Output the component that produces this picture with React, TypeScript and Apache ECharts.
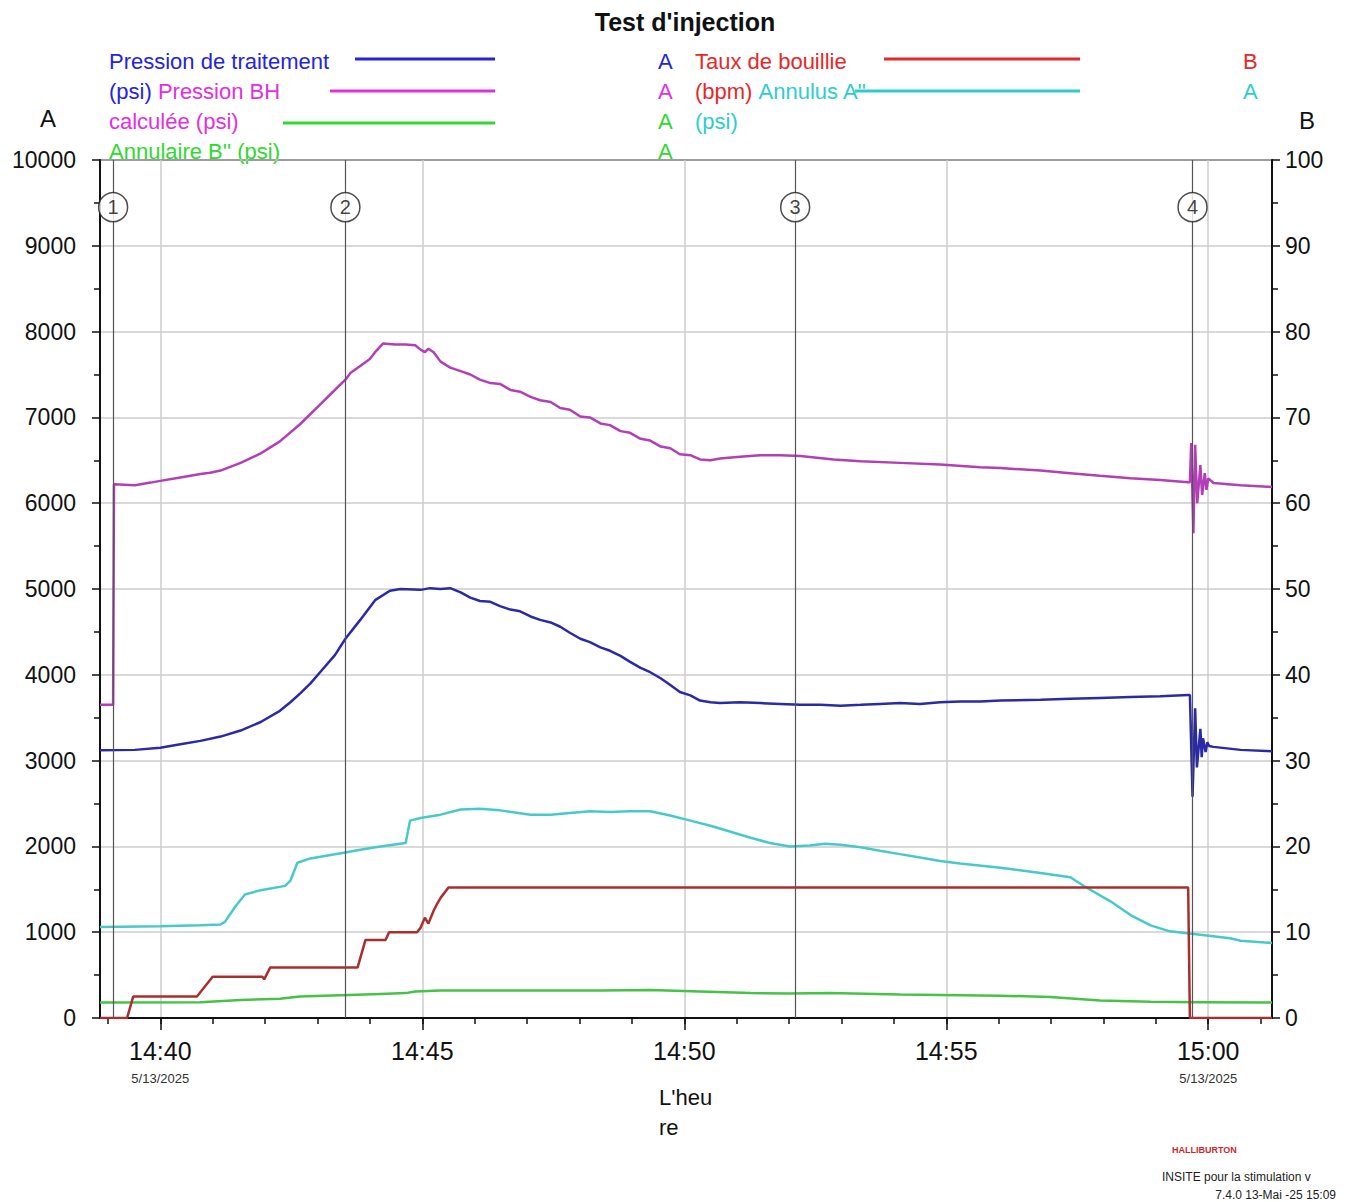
import React, { useEffect, useRef } from "react";
import * as echarts from "echarts";

// ---- time axis: seconds relative to 14:40:00 (5/13/2025) ----
const X_MIN = -69; // 14:38:51
const X_MAX = 1273; // 15:01:13
const MINUTE_TICK_RANGE = [-60, 1260];
const FIVE_MIN_RANGE = [0, 1200];
const DATE_LABEL = "5/13/2025";

// Pression de traitement (psi) [sec, psi]
const treatPressure: [number, number][] = [
  [-69, 3120], [-29, 3125], [0, 3150], [23, 3190], [46, 3230], [69, 3280], [92, 3350],
  [115, 3450], [137, 3580], [149, 3680], [160, 3780], [172, 3900], [183, 4030], [200, 4230],
  [212, 4420], [229, 4640], [246, 4870], [263, 4980], [275, 5000], [298, 4990], [309, 5010],
  [321, 5000], [332, 5010], [344, 4960], [355, 4900], [366, 4860], [378, 4850], [389, 4800],
  [401, 4760], [412, 4740], [424, 4680], [435, 4640], [447, 4610], [458, 4560], [469, 4490],
  [481, 4420], [492, 4380], [504, 4320], [515, 4280], [527, 4220], [538, 4150], [550, 4080],
  [561, 4030], [573, 3960], [584, 3880], [595, 3800], [607, 3760], [618, 3700], [630, 3680],
  [641, 3670], [664, 3680], [687, 3670], [710, 3660], [733, 3650], [756, 3650], [779, 3640],
  [802, 3650], [824, 3660], [847, 3670], [870, 3660], [893, 3680], [916, 3690], [939, 3690],
  [962, 3700], [1008, 3710], [1042, 3720], [1076, 3730], [1111, 3740], [1145, 3750],
  [1177, 3765], [1179, 3765], [1182, 2580], [1185, 3610], [1187, 2920], [1191, 3370],
  [1192.5, 3040], [1194, 3260], [1197, 3100], [1199, 3215], [1201, 3170], [1206, 3160],
  [1237, 3125], [1273, 3110],
];

// Pression BH calculée (psi)
const bhPressure: [number, number][] = [
  [-69, 3650], [-54, 3650], [-53, 6220], [-29, 6210], [-11, 6240], [0, 6260], [23, 6300],
  [46, 6340], [57, 6355], [69, 6380], [92, 6470], [115, 6580], [126, 6650], [137, 6720],
  [160, 6920], [183, 7150], [195, 7270], [212, 7440], [218, 7520], [229, 7600], [240, 7680],
  [246, 7760], [255, 7860], [269, 7850], [281, 7850], [292, 7840], [298, 7790], [303, 7760],
  [307, 7800], [313, 7760], [321, 7650], [332, 7580], [344, 7540], [355, 7500], [366, 7440],
  [378, 7400], [389, 7390], [401, 7320], [412, 7300], [424, 7240], [435, 7200], [447, 7180],
  [458, 7110], [469, 7090], [481, 7010], [492, 7000], [504, 6930], [515, 6910], [527, 6840],
  [538, 6820], [550, 6750], [561, 6730], [573, 6660], [584, 6640], [595, 6570], [607, 6560],
  [618, 6510], [630, 6500], [641, 6520], [664, 6540], [687, 6560], [710, 6560], [733, 6550],
  [771, 6510], [802, 6490], [847, 6470], [893, 6450], [939, 6420], [962, 6410], [1008, 6380],
  [1042, 6350], [1076, 6320], [1111, 6290], [1145, 6270], [1177, 6245], [1179, 6245],
  [1180.5, 6700], [1183, 5650], [1185, 6680], [1187.4, 6000], [1191, 6445], [1193, 6095],
  [1196, 6350], [1198, 6155], [1200, 6290], [1206, 6235], [1237, 6210], [1273, 6190],
];

// Annulaire B'' (psi)
const annulusB: [number, number][] = [
  [-69, 180], [46, 185], [92, 210], [137, 225], [160, 250], [206, 265], [252, 280], [281, 290],
  [292, 310], [321, 320], [389, 320], [504, 320], [561, 325], [618, 310], [676, 290], [721, 285],
  [767, 290], [847, 275], [962, 260], [1019, 245], [1076, 205], [1134, 190], [1191, 185],
  [1273, 180],
];

// Annulus A'' (psi)
const annulusA: [number, number][] = [
  [-69, 1060], [0, 1070], [46, 1080], [69, 1090], [74, 1120], [86, 1300], [97, 1440],
  [115, 1490], [143, 1540], [149, 1600], [157, 1810], [172, 1860], [195, 1900], [212, 1930],
  [229, 1960], [252, 2000], [281, 2040], [286, 2300], [298, 2330], [321, 2370], [344, 2430],
  [366, 2440], [389, 2420], [424, 2370], [447, 2370], [469, 2390], [492, 2410], [515, 2400],
  [538, 2410], [561, 2410], [584, 2360], [607, 2300], [630, 2240], [653, 2170], [676, 2100],
  [698, 2040], [721, 2000], [744, 2010], [761, 2030], [779, 2020], [802, 1990], [824, 1950],
  [847, 1910], [870, 1870], [893, 1830], [916, 1800], [962, 1750], [1008, 1690], [1042, 1640],
  [1059, 1530], [1088, 1360], [1111, 1200], [1134, 1080], [1156, 1010], [1191, 970],
  [1225, 930], [1237, 900], [1273, 875],
];

// Taux de bouillie (bpm)
const slurryRate: [number, number][] = [
  [-69, 0], [-38, 0], [-31, 2.5], [42, 2.5], [60, 4.8], [117, 4.8], [119, 4.5], [126, 5.9],
  [226, 5.9], [235, 9.1], [258, 9.1], [262, 10.0], [294, 10.0], [298, 10.5], [303, 11.7],
  [307, 11.0], [313, 12.5], [317, 13.3], [321, 14.0], [330, 15.2], [1177, 15.2], [1179, 0],
  [1273, 0],
];

// Event markers
const EVENT_SECS = [-54, 212, 727, 1182];
const EVENT_LABELS = ["1", "2", "3", "4"];
const EVENT_LEVEL = 9450;

const LEFT_TICKS = { min: 0, max: 10000, interval: 1000 };
const RIGHT_TICKS = { min: 0, max: 100, interval: 10 };

const W = 1346;
const H = 1202;
const G_LEFT = 100;
const G_RIGHT_PX = 1272;
const G_TOP = 160;
const G_BOTTOM_PX = 1018;

const C = {
  blue: "#2a2aa6",
  magenta: "#b23fb6",
  green: "#46c246",
  cyan: "#48c9c9",
  red: "#a92f2f",
  tBlue: "#2424dc",
  tMagenta: "#e030e0",
  tGreen: "#30d830",
  tRed: "#e62828",
  tCyan: "#30cccc",
  grid: "#cdcdcd",
};

function fmtTime(v: number) {
  const mins = 14 * 60 + 40 + Math.round(v / 60);
  const hh = Math.floor(mins / 60);
  const mm = mins % 60;
  return `${hh}:${mm < 10 ? "0" + mm : mm}`;
}

export default function App() {
  const ref = useRef<HTMLDivElement>(null);
  useEffect(() => {
    document.body.style.margin = "0";
    if (!ref.current) return;
    const chart = echarts.init(ref.current, undefined, { renderer: "svg" });
    const k = (G_RIGHT_PX - G_LEFT) / (X_MAX - X_MIN);
    const px = (s: number) => G_LEFT + (s - X_MIN) * k;
    const gridBottom = H - G_BOTTOM_PX;
    const font = "Liberation Sans, Arial, sans-serif";

    const lineSeries = (name: string, data: [number, number][], color: string, yIdx = 0, extra: any = {}) => ({
      name,
      type: "line",
      data,
      xAxisIndex: 0,
      yAxisIndex: yIdx,
      showSymbol: false,
      symbol: "none",
      lineStyle: { color, width: 2.5 },
      itemStyle: { color },
      silent: true,
      z: 3,
      ...extra,
    });

    const legendText = (x: number, y: number, text: string, fill: string, rich?: any) => ({
      type: "text",
      x,
      y,
      style: { text, fill, fontSize: 22, fontFamily: font, verticalAlign: "middle", align: "left", rich },
    });
    const legendLine = (x1: number, x2: number, y: number, stroke: string) => ({
      type: "line",
      shape: { x1, y1: y, x2, y2: y },
      style: { stroke, lineWidth: 3 },
    });

    chart.setOption({
      animation: false,
      backgroundColor: "#ffffff",
      textStyle: { fontFamily: font },
      grid: [
        { left: G_LEFT, right: W - G_RIGHT_PX, top: G_TOP, bottom: gridBottom, show: true, borderColor: "#111", borderWidth: 2, backgroundColor: "transparent" },
        { left: px(MINUTE_TICK_RANGE[0]), right: W - px(MINUTE_TICK_RANGE[1]), top: G_TOP, bottom: gridBottom },
        { left: px(FIVE_MIN_RANGE[0]), right: W - px(FIVE_MIN_RANGE[1]), top: G_TOP, bottom: gridBottom },
      ],
      xAxis: [
        {
          type: "value", gridIndex: 0, min: X_MIN, max: X_MAX,
          axisLine: { show: true, onZero: false, lineStyle: { color: "#111", width: 2 } },
          axisTick: { show: false }, axisLabel: { show: false }, splitLine: { show: false },
        },
        {
          type: "value", gridIndex: 1, min: MINUTE_TICK_RANGE[0], max: MINUTE_TICK_RANGE[1], interval: 60,
          axisLine: { show: false, onZero: false },
          axisTick: { show: true, length: 6, lineStyle: { color: "#111", width: 1.5 } },
          axisLabel: { show: false }, splitLine: { show: false },
        },
        {
          type: "value", gridIndex: 2, min: FIVE_MIN_RANGE[0], max: FIVE_MIN_RANGE[1], interval: 300,
          axisLine: { show: false, onZero: false },
          axisTick: { show: true, length: 12, lineStyle: { color: "#111", width: 1.5 } },
          splitLine: { show: true, lineStyle: { color: C.grid, width: 1.5 } },
          axisLabel: {
            show: true,
            margin: 18,
            verticalAlign: "top",
            formatter: (v: number) => {
              const t = fmtTime(v);
              return v === FIVE_MIN_RANGE[0] || v === FIVE_MIN_RANGE[1]
                ? `{t|${t}}\n{d|${DATE_LABEL}}`
                : `{t|${t}}`;
            },
            rich: {
              t: { fontSize: 25, color: "#111", lineHeight: 30, fontFamily: font },
              d: { fontSize: 13, color: "#333", lineHeight: 24, fontFamily: font },
            },
          },
        },
      ],
      yAxis: [
        {
          type: "value", gridIndex: 0, ...LEFT_TICKS, position: "left",
          axisLine: { show: true, onZero: false, lineStyle: { color: "#111", width: 2 } },
          axisTick: { show: true, length: 8, lineStyle: { color: "#111", width: 1.5 } },
          minorTick: { show: true, splitNumber: 2, length: 6, lineStyle: { color: "#111", width: 1.5 } },
          axisLabel: { fontSize: 23, color: "#111", margin: 24, fontFamily: font, formatter: (v: number) => String(v) },
          splitLine: { show: true, lineStyle: { color: C.grid, width: 1.5 } },
        },
        {
          type: "value", gridIndex: 0, ...RIGHT_TICKS, position: "right",
          axisLine: { show: true, onZero: false, lineStyle: { color: "#111", width: 2 } },
          axisTick: { show: true, length: 8, lineStyle: { color: "#111", width: 1.5 } },
          minorTick: { show: true, splitNumber: 2, length: 6, lineStyle: { color: "#111", width: 1.5 } },
          axisLabel: { fontSize: 23, color: "#111", margin: 13, fontFamily: font, formatter: (v: number) => String(v) },
          splitLine: { show: false },
        },
        { type: "value", gridIndex: 1, min: 0, max: 1, show: false, axisLine: { show: false, onZero: false } },
        { type: "value", gridIndex: 2, min: 0, max: 1, show: false, axisLine: { show: false, onZero: false } },
      ],
      series: [
        lineSeries("Annulaire B'' (psi)", annulusB, C.green, 0, {
          markLine: {
            silent: true,
            symbol: "none",
            label: { show: false },
            lineStyle: { color: "#555", width: 1.2, type: "solid" },
            data: EVENT_SECS.map((s) => ({ xAxis: s })),
          },
        }),
        lineSeries("Annulus A'' (psi)", annulusA, C.cyan),
        lineSeries("Taux de bouillie (bpm)", slurryRate, C.red, 1),
        lineSeries("Pression BH calculée (psi)", bhPressure, C.magenta),
        lineSeries("Pression de traitement (psi)", treatPressure, C.blue),
        {
          name: "events",
          type: "scatter",
          xAxisIndex: 0,
          yAxisIndex: 0,
          data: EVENT_SECS.map((s, i) => ({ value: [s, EVENT_LEVEL], name: EVENT_LABELS[i] })),
          symbol: "circle",
          symbolSize: 29,
          itemStyle: { color: "#fff", borderColor: "#222", borderWidth: 1.5 },
          label: { show: true, position: "inside", formatter: (p: any) => p.name, fontSize: 20, color: "#111", fontFamily: font },
          silent: true,
          z: 10,
        },
      ],
      graphic: [
        {
          type: "text", x: 685, y: 22,
          style: { text: "Test d'injection", fill: "#111", fontSize: 25, fontWeight: "bold", fontFamily: font, align: "center", verticalAlign: "middle" },
        },
        // left column
        legendText(109, 61, "Pression de traitement", C.tBlue),
        legendLine(355, 495, 59, C.tBlue),
        legendText(658, 61, "A", C.tBlue),
        legendText(109, 91, "{b|(psi)} {m|Pression BH}", C.tMagenta, {
          b: { fill: C.tBlue, fontSize: 22, fontFamily: font },
          m: { fill: C.tMagenta, fontSize: 22, fontFamily: font },
        }),
        legendLine(330, 495, 91, C.tMagenta),
        legendText(658, 91, "A", C.tMagenta),
        legendText(109, 121, "calculée (psi)", C.tMagenta),
        legendLine(283, 495, 123, C.tGreen),
        legendText(658, 121, "A", C.tGreen),
        legendText(109, 151, "Annulaire B'' (psi)", C.tGreen),
        legendText(658, 151, "A", C.tGreen),
        // right column
        legendText(695, 61, "Taux de bouillie", C.tRed),
        legendLine(884, 1080, 59, C.tRed),
        legendText(1243, 61, "B", C.tRed),
        legendText(695, 91, "{r|(bpm)} {c|Annulus A''}", C.tCyan, {
          r: { fill: C.tRed, fontSize: 22, fontFamily: font },
          c: { fill: C.tCyan, fontSize: 22, fontFamily: font },
        }),
        legendLine(855, 1080, 91, C.tCyan),
        legendText(1243, 91, "A", C.tCyan),
        legendText(695, 121, "(psi)", C.tCyan),
        // axis letters
        { type: "text", x: 48, y: 118, style: { text: "A", fill: "#111", fontSize: 24, fontFamily: font, align: "center", verticalAlign: "middle" } },
        { type: "text", x: 1307, y: 120, style: { text: "B", fill: "#111", fontSize: 24, fontFamily: font, align: "center", verticalAlign: "middle" } },
        // x axis name
        { type: "text", x: 659, y: 1112, style: { text: "L'heu\nre", fill: "#111", fontSize: 22, fontFamily: font, align: "left", verticalAlign: "middle", lineHeight: 30 } },
        // footer
        { type: "text", x: 1172, y: 1150, style: { text: "HALLIBURTON", fill: "#cc2a2a", fontSize: 9, fontWeight: "bold", fontFamily: font, align: "left", verticalAlign: "middle" } },
        { type: "text", x: 1162, y: 1177, style: { text: "INSITE pour la stimulation v", fill: "#222", fontSize: 12, fontFamily: font, align: "left", verticalAlign: "middle" } },
        { type: "text", x: 1336, y: 1195, style: { text: "7.4.0 13-Mai -25 15:09", fill: "#222", fontSize: 12, fontFamily: font, align: "right", verticalAlign: "middle" } },
      ],
    });
    return () => chart.dispose();
  }, []);
  return <div ref={ref} style={{ width: W, height: H }} />;
}
